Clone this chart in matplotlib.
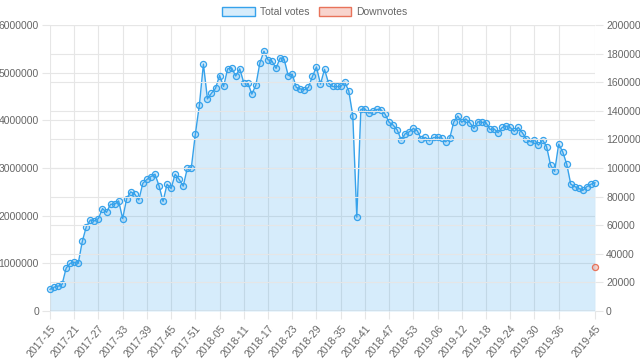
import numpy as np
import matplotlib
matplotlib.use("Agg")
import matplotlib.pyplot as plt
from matplotlib.patches import Patch

plt.rcParams['font.family'] = ['Liberation Sans', 'DejaVu Sans']

weeks = ([f"2017-{w:02d}" for w in range(15, 53)]
         + [f"2018-{w:02d}" for w in range(1, 54)]
         + [f"2019-{w:02d}" for w in range(1, 46)])

total_votes_m = [
    0.455, 0.50, 0.52, 0.56, 0.90, 1.00, 1.02, 1.00, 1.46, 1.77,
    1.91, 1.89, 1.94, 2.15, 2.07, 2.24, 2.24, 2.31, 1.94, 2.36,
    2.50, 2.45, 2.33, 2.68, 2.76, 2.82, 2.87, 2.63, 2.30, 2.66,
    2.57, 2.87, 2.76, 2.62, 2.99, 3.00, 3.71, 4.32, 5.18, 4.45,
    4.57, 4.67, 4.94, 4.71, 5.08, 5.10, 4.93, 5.08, 4.79, 4.79,
    4.55, 4.74, 5.21, 5.45, 5.27, 5.24, 5.09, 5.31, 5.28, 4.94,
    4.97, 4.69, 4.66, 4.64, 4.69, 4.92, 5.12, 4.76, 5.07, 4.78,
    4.71, 4.71, 4.71, 4.80, 4.62, 4.10, 1.97, 4.23, 4.24, 4.15,
    4.20, 4.23, 4.22, 4.13, 3.96, 3.90, 3.80, 3.59, 3.72, 3.76,
    3.83, 3.78, 3.60, 3.64, 3.57, 3.64, 3.64, 3.63, 3.55, 3.62,
    3.96, 4.09, 3.96, 4.03, 3.95, 3.83, 3.97, 3.96, 3.95, 3.81,
    3.82, 3.74, 3.85, 3.88, 3.85, 3.77, 3.85, 3.74, 3.61, 3.55,
    3.59, 3.48, 3.59, 3.45, 3.06, 2.93, 3.50, 3.34, 3.08, 2.66,
    2.61, 2.57, 2.53, 2.61, 2.66, 2.69,
]
total_votes = [v * 1e6 for v in total_votes_m]

downvotes_last = 31000
downvotes = [np.nan] * (len(weeks) - 1) + [downvotes_last]

left_ticks = [0, 1000000, 2000000, 3000000, 4000000, 5000000, 6000000]
right_ticks = [0, 20000, 40000, 60000, 80000, 100000, 120000, 140000, 160000, 180000, 200000]

blue = (54/255, 162/255, 235/255)
blue_fill = (54/255, 162/255, 235/255, 0.2)
red = (232/255, 115/255, 90/255)
red_fill = (232/255, 115/255, 90/255, 0.3)
grid_c = '#e6e6e6'
text_c = '#666666'

fig = plt.figure(figsize=(6.4, 3.61), dpi=100)
ax = fig.add_axes([50/640, 50/361, 545/640, 286/361])
ax2 = ax.twinx()

x = np.arange(len(weeks))
ax.fill_between(x, 0, total_votes, color=blue_fill, lw=0, zorder=1)
ax.plot(x, total_votes, color=blue, lw=1.0, zorder=3, clip_on=False)
ax.plot(x, total_votes, ls='none', marker='o', ms=4.4, mfc=blue_fill,
        mec=blue, mew=0.9, zorder=4, clip_on=False)

ax2.plot(x, downvotes, ls='none', marker='o', ms=4.4, mfc=red_fill,
         mec=red, mew=0.9, zorder=4, clip_on=False)

ax.set_xlim(0, len(weeks) - 1)
ax.set_ylim(0, 6000000)
ax2.set_ylim(0, 200000)

tick_idx = list(range(0, len(weeks) - 9, 6)) + [len(weeks) - 1]
ax.set_xticks(tick_idx)
ax.set_xticklabels([weeks[i] for i in tick_idx], rotation=50, ha='right',
                   rotation_mode='anchor', fontsize=7.5, color=text_c)
ax.set_yticks(left_ticks)
ax.set_yticklabels([str(t) for t in left_ticks], fontsize=7.5, color=text_c)
ax2.set_yticks(right_ticks)
ax2.set_yticklabels([str(t) for t in right_ticks], fontsize=7.5, color=text_c)

for a in (ax, ax2):
    for s in a.spines.values():
        s.set_visible(False)
    a.tick_params(axis='both', length=6, width=0.8, color=grid_c, pad=2)
ax.tick_params(axis='x', pad=3)

ax.grid(True, axis='x', color=grid_c, lw=0.8, zorder=0)
ax.grid(True, axis='y', color=grid_c, lw=0.8, zorder=0)
ax2.grid(True, axis='y', color=grid_c, lw=0.8)
ax.set_axisbelow(True)
ax.axhline(0, color='#bfbfbf', lw=1.0, zorder=2)

handles = [Patch(facecolor=blue_fill, edgecolor=blue, lw=1.0, label='Total votes'),
           Patch(facecolor=red_fill, edgecolor=red, lw=1.0, label='Downvotes')]
leg = fig.legend(handles=handles, loc='center', bbox_to_anchor=(0.492, 1 - 12/361),
                 ncol=2, frameon=False, fontsize=7.5, handlelength=3.1,
                 handleheight=0.9, handletextpad=0.5, columnspacing=0.9)
for t in leg.get_texts():
    t.set_color(text_c)

fig.savefig('out.png', dpi=100)
